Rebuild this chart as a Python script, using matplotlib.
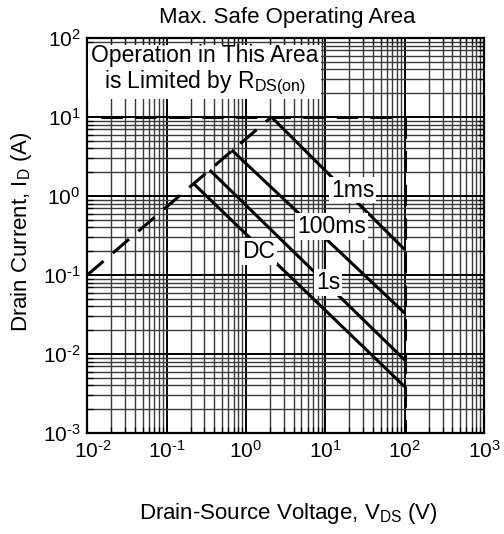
import matplotlib
matplotlib.use("Agg")
import matplotlib.pyplot as plt
import matplotlib.transforms as mtransforms
from matplotlib.ticker import LogLocator, NullFormatter

plt.rcParams['font.family'] = ['Liberation Sans', 'DejaVu Sans']
plt.rcParams['mathtext.fontset'] = 'custom'
plt.rcParams['mathtext.rm'] = 'Liberation Sans'
plt.rcParams['mathtext.it'] = 'Liberation Sans:italic'
plt.rcParams['mathtext.bf'] = 'Liberation Sans:bold'

# ---- data ----
rds_v = [0.01, 2.09]
rds_i = [0.1, 10.0]
imax_v = [0.015, 100.0]
imax_i = [10.0, 10.0]
vmax_v = [100.0, 100.0]
vmax_i = [10.0, 0.001]

curve_names = ["1ms", "100ms", "1s", "DC"]
curve_v = [[2.09, 100.0], [0.66, 100.0], [0.35, 100.0], [0.216, 100.0]]
curve_i = [[10.0, 0.21], [3.82, 0.033], [2.13, 0.0084], [1.45, 0.00386]]
label_xy = {"1ms": (22.2, 1.19), "100ms": (12.0, 0.41), "1s": (10.8, 0.080), "DC": (1.43, 0.197)}

xticks = [1e-2, 1e-1, 1e0, 1e1, 1e2, 1e3]
yticks = [1e-3, 1e-2, 1e-1, 1e0, 1e1, 1e2]
xexp = ["-2", "-1", "0", "1", "2", "3"]
yexp = ["-3", "-2", "-1", "0", "1", "2"]


def sup_label(e):
    return r'$\mathregular{10^{\text{' + e + r'}}}$'


fig = plt.figure(figsize=(5.04, 5.34), dpi=100)
ax = fig.add_axes([87.3/504, (534-433)/534, (484-87.3)/504, (433-38)/534])
ax.set_xscale('log')
ax.set_yscale('log')
ax.set_xlim(1e-2, 1e3)
ax.set_ylim(1e-3, 1e2)

ax.xaxis.set_minor_locator(LogLocator(base=10, subs=range(2, 10), numticks=20))
ax.yaxis.set_minor_locator(LogLocator(base=10, subs=range(2, 10), numticks=20))
ax.xaxis.set_minor_formatter(NullFormatter())
ax.yaxis.set_minor_formatter(NullFormatter())
ax.grid(which='major', color='black', linewidth=1.4)
ax.grid(which='minor', color='#3a3a3a', linewidth=1.0)
ax.set_axisbelow(True)

ax.set_xticks(xticks)
ax.set_xticklabels([sup_label(e) for e in xexp], fontsize=15)
ax.set_yticks(yticks)
ax.set_yticklabels([sup_label(e) for e in yexp], fontsize=15)
ax.tick_params(which='both', direction='in', top=True, right=True)
ax.tick_params(axis='x', which='major', length=6, width=1.2, pad=5)
ax.tick_params(axis='y', which='major', length=6, width=1.2, pad=5)
ax.tick_params(which='minor', length=4, width=0.9)
for s in ax.spines.values():
    s.set_linewidth(1.6)

# first x tick label sits slightly to the right in the reference
first = ax.get_xticklabels()[0]
first.set_transform(first.get_transform() +
                    mtransforms.ScaledTranslation(6/100, 0, fig.dpi_scale_trans))

dash = dict(color='black', linewidth=2.2, linestyle=(0, (7, 4)))
ax.plot(rds_v, rds_i, **dash)
ax.plot(imax_v, imax_i, **dash)
ax.plot(vmax_v, vmax_i, **dash)

for name, v, i in zip(curve_names, curve_v, curve_i):
    ax.plot(v, i, color='black', linewidth=2.2, solid_capstyle='butt')
    lx, ly = label_xy[name]
    ax.text(lx, ly, name, fontsize=16.5, ha='center', va='center',
            bbox=dict(boxstyle='square,pad=0.08', fc='white', ec='none'), zorder=5)

ax.text(0.296, 0.918, 'Operation in This Area\nis Limited by R$_{\\mathregular{DS(on)}}$',
        transform=ax.transAxes, fontsize=16.5, ha='center', va='center', linespacing=1.05,
        bbox=dict(boxstyle='square,pad=0.12', fc='white', ec='none'), zorder=5)

fig.text(287/504, 1 - 17/534, 'Max. Safe Operating Area', fontsize=16, ha='center', va='center')
fig.text(288/504, 1 - 513/534, 'Drain-Source Voltage, V$_{\\mathregular{DS}}$ (V)', fontsize=16,
         ha='center', va='center')
fig.text(22/504, 1 - 232/534, 'Drain Current, I$_{\\mathregular{D}}$ (A)', fontsize=16,
         ha='center', va='center', rotation=90)

fig.savefig('out.png', dpi=100)
